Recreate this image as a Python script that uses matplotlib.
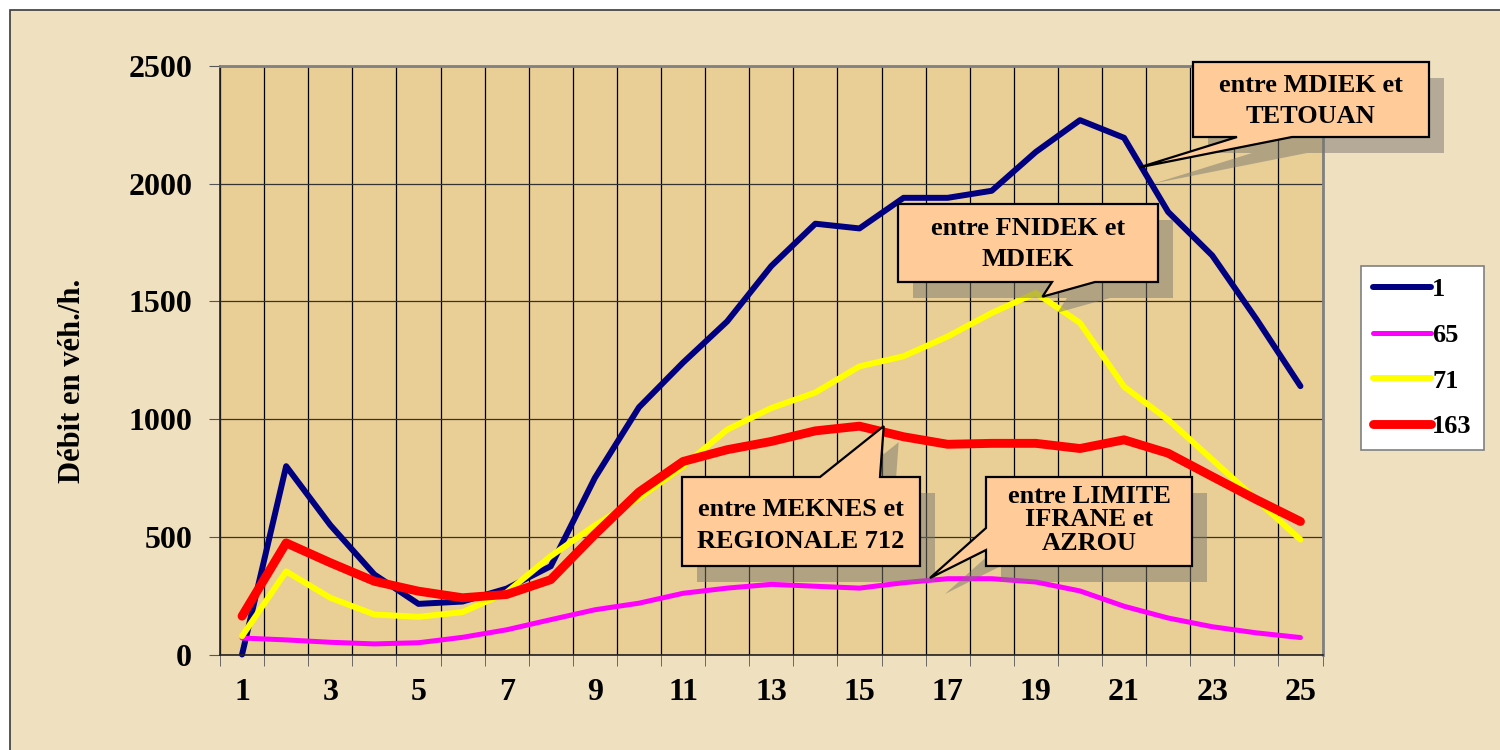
import numpy as np
import matplotlib
matplotlib.use('Agg')
import matplotlib.pyplot as plt
from matplotlib.patches import Polygon, Rectangle
from matplotlib.transforms import IdentityTransform

plt.rcParams['font.family'] = ['Liberation Serif', 'DejaVu Serif']
plt.rcParams['font.weight'] = 'bold'

# data (hours 1..25)
hours = list(range(1, 26))
s1 = [0, 800, 550, 340, 215, 225, 280, 375, 750, 1050, 1240, 1415, 1650,
      1830, 1810, 1940, 1940, 1970, 2135, 2270, 2195, 1880, 1695, 1425, 1140]
s65 = [70, 62, 52, 45, 50, 73, 105, 148, 190, 218, 260, 282, 298,
       290, 282, 305, 322, 322, 308, 270, 205, 155, 118, 92, 72]
s71 = [78, 353, 241, 170, 160, 180, 264, 418, 548, 665, 800, 955, 1047,
       1113, 1224, 1267, 1351, 1451, 1536, 1409, 1138, 997, 828, 658, 488]
s163 = [163, 474, 390, 311, 269, 241, 255, 318, 510, 690, 820, 870, 905,
        950, 970, 925, 893, 897, 897, 875, 912, 855, 756, 658, 565]
series_labels = ['1', '65', '71', '163']
series_colors = ['#000080', '#FF00FF', '#FFFF00', '#FF0000']
series_widths = [4.3, 3.6, 4.3, 6.4]

W, H = 1500, 750
fig = plt.figure(figsize=(15, 7.5), dpi=100, facecolor='white')

# parchment background with a thin frame at top/left
bg = Rectangle((9.5, -20), 1600, H - 9.5 + 20, transform=IdentityTransform(),
               facecolor='#EFE0BF', edgecolor='#3a3a3a', lw=1.2, zorder=-10)
fig.add_artist(bg)

ax = fig.add_axes([220 / W, 1 - 654.5 / H, 1102.5 / W, 588.5 / H])
ax.set_facecolor('#E9CF96')

lines = []
for vals, lab, col, lw in zip([s1, s65, s71, s163], series_labels, series_colors, series_widths):
    ln, = ax.plot(hours, vals, color=col, lw=lw, label=lab,
                  solid_capstyle='round', solid_joinstyle='round', clip_on=False)
    lines.append(ln)

ax.set_xlim(0.5, 25.5)
ax.set_ylim(0, 2500)
ax.set_xticks(range(1, 26, 2))
ax.set_xticks(np.arange(0.5, 26, 1), minor=True)
ax.set_yticks(range(0, 2501, 500))
ax.tick_params(axis='x', which='major', length=0, pad=17, labelsize=23)
ax.tick_params(axis='x', which='minor', length=8, direction='out', color='#555555')
ax.tick_params(axis='y', length=8, pad=12, labelsize=23, color='#555555')
ax.grid(axis='x', which='minor', color='black', lw=0.9)
ax.grid(axis='y', which='major', color='#333333', lw=0.9)
ax.set_axisbelow(True)
for s in ['top', 'right']:
    ax.spines[s].set_color('#808080')
    ax.spines[s].set_linewidth(2)
for s in ['left', 'bottom']:
    ax.spines[s].set_color('#222222')
    ax.spines[s].set_linewidth(1.2)

fig.text(72 / W, 1 - 381 / H, 'Débit en véh./h.', rotation=90, ha='center', va='center',
         fontsize=22, fontweight='bold')

leg = ax.legend(loc='upper left', bbox_to_anchor=(1361 / W, 1 - 266 / H),
                bbox_transform=fig.transFigure, fontsize=19, frameon=True, fancybox=False,
                edgecolor='#808080', facecolor='white', framealpha=1, handlelength=2.2,
                handletextpad=0.05, labelspacing=0.84, borderpad=0.45, borderaxespad=0)
leg.get_frame().set_linewidth(1.2)

# callouts: box in pixel coords (top-left origin), pointer tip in data coords
def to_disp(X, Y):
    return (X, H - Y)

def tip_px(x, y):
    dx, dy = ax.transData.transform((x, y))
    return (dx, H - dy)

def callout(box, edge, base, tip, text, center, lsp):
    x0, y0, x1, y1 = box
    t = tip_px(*tip)
    if edge == 'bottom':
        pts = [(x0, y0), (x1, y0), (x1, y1), (base[1], y1), t, (base[0], y1), (x0, y1)]
    elif edge == 'top':
        pts = [(x0, y0), (base[0], y0), t, (base[1], y0), (x1, y0), (x1, y1), (x0, y1)]
    else:
        pts = [(x0, y0), (x1, y0), (x1, y1), (x0, y1), (x0, base[1]), t, (x0, base[0])]
    shadow = [to_disp(px + 15, py + 16) for px, py in pts]
    fig.add_artist(Polygon(shadow, closed=True, transform=IdentityTransform(),
                           facecolor='#7a7670', edgecolor='none', alpha=0.5, zorder=5))
    fig.add_artist(Polygon([to_disp(px, py) for px, py in pts], closed=True,
                           transform=IdentityTransform(), facecolor='#FFCC99',
                           edgecolor='black', lw=1.6, zorder=6, joinstyle='miter'))
    fig.text(center[0] / W, 1 - center[1] / H, text, ha='center', va='center',
             fontsize=19, fontweight='bold', linespacing=lsp, zorder=7)

callout((1193, 62, 1429, 137), 'bottom', (1237, 1292), (21.36, 2070),
        'entre MDIEK et\nTETOUAN', (1311, 101), 1.42)
callout((898, 204, 1158, 282), 'bottom', (1052, 1095), (19.15, 1520),
        'entre FNIDEK et\nMDIEK', (1028, 244), 1.42)
callout((682, 477, 920, 566), 'top', (820, 880), (15.55, 970),
        'entre MEKNES et\nREGIONALE 712', (801, 525), 1.5)
callout((986, 477, 1192, 566), 'left', (528, 550), (16.6, 325),
        'entre LIMITE\nIFRANE et\nAZROU', (1089, 520), 1.05)

fig.savefig('out.png', dpi=100)
